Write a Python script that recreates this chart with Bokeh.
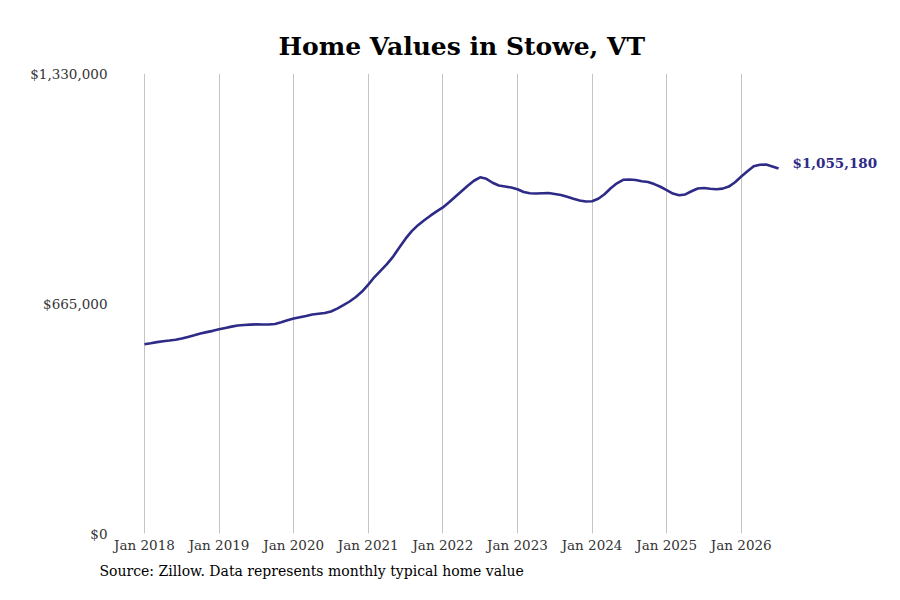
from bokeh.plotting import figure
from bokeh.models import FixedTicker, Label, Range1d, Title
from bokeh.embed import file_html
from bokeh.resources import INLINE

# Monthly typical home value, Jan 2018 .. Jul 2026 (month index 0..102)
values = [
    547300, 550200, 553300, 555900, 558000, 560300, 563700, 568400, 573000, 578200, 582200, 585900,
    590300, 594300, 598100, 601200, 602700, 603800, 604700, 604400, 604100, 605900, 610800, 616500,
    621400, 625200, 628900, 633000, 635300, 637600, 641900, 650000, 660100, 670800, 683800, 699600,
    719800, 741500, 760200, 779000, 800600, 826600, 852500, 874200, 891500, 905900, 918900, 931300,
    942800, 957800, 973700, 989600, 1005400, 1019900, 1030000, 1025600, 1014100, 1006000, 1003100, 1000200,
    995300, 987300, 983800, 982900, 983800, 984400, 981500, 978600, 973700, 967600, 962700, 959800,
    960700, 967900, 980900, 998200, 1012600, 1022700, 1023600, 1021900, 1018400, 1016100, 1010300, 1002500,
    993000, 982900, 978000, 980300, 989600, 997400, 998800, 996800, 995300, 997100, 1003100, 1015500,
    1032000, 1047300, 1061700, 1066000, 1066600, 1061100, 1055180,
]
months = list(range(len(values)))
tick_months = [0, 12, 24, 36, 48, 60, 72, 84, 96]
tick_labels = ["Jan 2018", "Jan 2019", "Jan 2020", "Jan 2021", "Jan 2022",
               "Jan 2023", "Jan 2024", "Jan 2025", "Jan 2026"]
y_ticks = [0, 665000, 1330000]
y_labels = ["$0", "$665,000", "$1,330,000"]
title_text = "Home Values in Stowe, VT"
source_text = "Source: Zillow. Data represents monthly typical home value"
end_label = "$1,055,180"

LINE = "#2e2b87"
FONT = "DejaVu Serif"

p = figure(width=884, height=584, output_backend="svg", toolbar_location=None,
           x_range=Range1d(-4.5, 118.4), y_range=Range1d(0, 1330000),
           min_border_left=116, min_border_right=4, min_border_top=73, min_border_bottom=50)
p.outline_line_color = None
p.background_fill_color = "white"
p.border_fill_color = "white"

p.line(months, values, line_color=LINE, line_width=2.6)

p.xaxis.ticker = FixedTicker(ticks=tick_months)
p.xaxis.major_label_overrides = {m: l for m, l in zip(tick_months, tick_labels)}
p.yaxis.ticker = FixedTicker(ticks=y_ticks)
p.yaxis.major_label_overrides = {v: l for v, l in zip(y_ticks, y_labels)}
for ax in (p.xaxis, p.yaxis):
    ax.axis_line_color = None
    ax.major_tick_line_color = None
    ax.minor_tick_line_color = None
    ax.major_tick_out = 0
    ax.major_tick_in = 0
    ax.major_label_text_font = FONT
    ax.major_label_text_font_size = "13.5px"
    ax.major_label_text_color = "#333333"
p.xaxis.major_label_standoff = 3
p.yaxis.major_label_standoff = 9

p.xgrid.grid_line_color = "#c4c4c4"
p.xgrid.grid_line_width = 1
p.ygrid.grid_line_color = None

p.add_layout(Label(x=months[-1], y=values[-1], text=end_label, x_offset=14, y_offset=6,
                   text_font=FONT, text_font_style="bold", text_font_size="13.5px",
                   text_color=LINE, text_baseline="middle", text_align="left"))

p.add_layout(Title(text=title_text, align="left", offset=162, standoff=26,
                   text_font=FONT, text_font_style="bold", text_font_size="25px",
                   text_color="black"), "above")

p.add_layout(Title(text=source_text, align="left", offset=-17, standoff=11,
                   text_font=FONT, text_font_style="normal", text_font_size="14px",
                   text_color="black"), "below")

open("out.html", "w").write(file_html(p, INLINE))
